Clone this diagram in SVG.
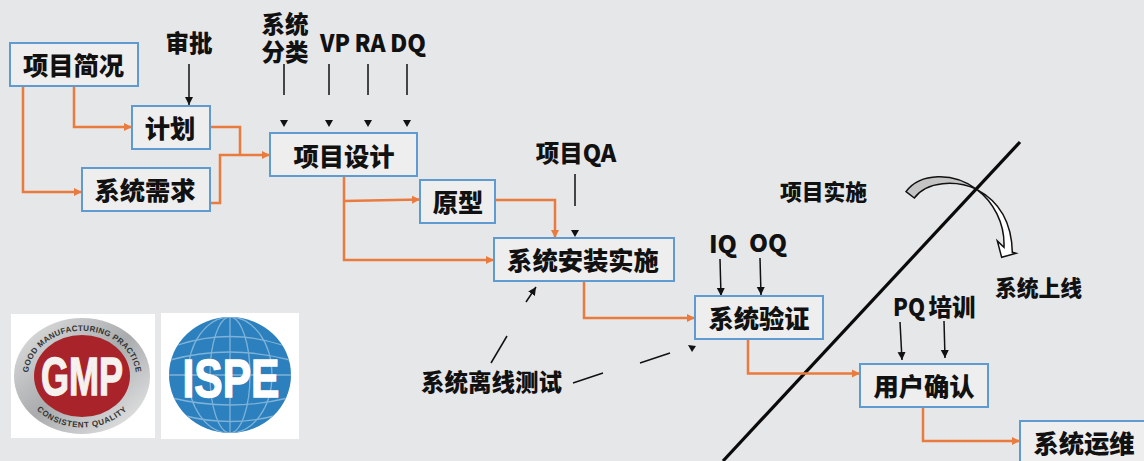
<svg xmlns="http://www.w3.org/2000/svg" width="1144" height="461" viewBox="0 0 1144 461">
<style>
text{font-family:"Noto Sans CJK SC","Noto Sans",sans-serif;font-weight:900;fill:#111;text-anchor:middle}
.n{font-size:25.300px}
.l{font-size:23.500px}
.s{font-size:21.800px}
.e{font-size:24.500px}
.lat{font-family:"Liberation Sans",sans-serif;font-weight:700;stroke:#f4f1ee;stroke-width:1.400px;fill:#f4f1ee}
.ring{font-family:"Liberation Sans",sans-serif;font-weight:700;font-size:8px;fill:#333}
.box{fill:#eeeeee;stroke:#5f9bd1;stroke-width:2}
.o{fill:none;stroke:#ea7b3e;stroke-width:2.5;marker-end:url(#oa)}
.p{fill:none;stroke:#ea7b3e;stroke-width:2.5}
.k{fill:none;stroke:#111;stroke-width:1.5}
.a{marker-end:url(#ka)}
.t{fill:#111}
.grid{fill:none;stroke:#7fb2d8;stroke-width:1.300}
</style>
<defs>
<marker id="oa" markerUnits="userSpaceOnUse" markerWidth="10" markerHeight="10" refX="8" refY="5" orient="auto"><path d="M0 1L8 5L0 9Z" fill="#ea7b3e"/></marker>
<marker id="ka" markerUnits="userSpaceOnUse" markerWidth="10" markerHeight="10" refX="8" refY="5" orient="auto"><path d="M0 1L8 5L0 9Z" fill="#111"/></marker>
<linearGradient id="sil" x1="0" y1="0" x2="1" y2="1"><stop offset="0" stop-color="#e4e4e4"/><stop offset=".5" stop-color="#a9abad"/><stop offset="1" stop-color="#eeeeee"/></linearGradient>
<clipPath id="glb"><ellipse cx="230" cy="375" rx="61" ry="58"/></clipPath>
<path id="topArc" d="M31 392A54 46 0 1 1 133 392"/>
<path id="botArc" d="M23 385A60 52 0 0 0 141 385"/>
</defs>
<rect width="1144" height="461" fill="#e6e7e9"/>

<g id="logo-gmp">
<rect x="11" y="314" width="144" height="124" fill="#fff"/>
<ellipse cx="82" cy="376" rx="68" ry="58" fill="url(#sil)"/>
<ellipse cx="82" cy="376" rx="48" ry="41" fill="#a8242a"/>
<text class="ring" letter-spacing=".3"><textPath href="#topArc" startOffset="50%">GOOD MANUFACTURING PRACTICE</textPath></text>
<text class="ring" letter-spacing=".6"><textPath href="#botArc" startOffset="50%">CONSISTENT QUALITY</textPath></text>
<text class="lat" x="82" y="395" font-size="54" textLength="82" lengthAdjust="spacingAndGlyphs">GMP</text>
</g>

<g id="logo-ispe">
<rect x="161" y="313" width="138" height="126" fill="#fff"/>
<ellipse cx="230" cy="375" rx="61" ry="58" fill="#2b80bd"/>
<g clip-path="url(#glb)" class="grid">
<ellipse cx="230" cy="375" rx="20" ry="58"/>
<ellipse cx="230" cy="375" rx="42" ry="58"/>
<path d="M230 317V433M169 375H291"/>
<path d="M178 345Q230 328 282 345M170 360Q230 344 290 360M172 398Q230 412 288 398M182 415Q230 428 278 415"/>
</g>
<text class="lat" style="fill:#fff;stroke:#fff" x="231" y="397" font-size="54" textLength="97" lengthAdjust="spacingAndGlyphs">ISPE</text>
</g>

<g id="phase-divider">
<path d="M1020 142L723 461" fill="none" stroke="#0a0a0a" stroke-width="3.200"/>
<g transform="translate(880 130) scale(.3333)" stroke="#111" stroke-width="4.500">
<path d="M78 185C120 128 220 125 290 178C230 150 140 152 103 204Z" fill="#c4c4c4"/>
<path d="M290 178C350 210 395 270 397 367L408 370L365 382L352 333L372 352C375 280 340 215 290 178Z" fill="#fff"/>
</g>
</g>

<g id="connectors">
<path class="o" d="M23 86V192H82"/>
<path class="o" d="M74 86V127H132"/>
<path class="p" d="M210 127H240V155"/>
<path class="o" d="M210 203H220V155H270"/>
<path class="o" d="M344 201L420 199.500"/>
<path class="o" d="M344 176V260H494"/>
<path class="o" d="M496 200H555V238"/>
<path class="o" d="M584 282V318H695"/>
<path class="o" d="M748 339V373.500H860"/>
<path class="o" d="M923 407V441H1020"/>
<path class="k a" d="M189 64V105"/>
<path class="k" d="M284 64V95M329 64V95M368 64V95M407 64V95M575 174V206"/>
<path class="t" d="M280 120H288L284 127ZM325 120H333L329 127ZM364 120H372L368 127ZM403 120H411L407 127ZM571 230H579L575 237Z"/>
<path class="k a" d="M720 259L721 296"/>
<path class="k a" d="M760 258L761 295"/>
<path class="k a" d="M900 322L902 360"/>
<path class="k a" d="M944 321L945 358"/>
<path class="k" d="M491 363L507 336"/>
<path class="k a" d="M526 302L536 287"/>
<path class="k" d="M573 383L603 373M640 363L670 353"/>
<path class="t" d="M688 345L696 346L692 352Z"/>
</g>

<g id="n-brief"><rect class="box" x="10" y="43" width="128" height="43"/><text class="n" x="73.500" y="75">项目简况</text></g>
<g id="n-plan"><rect class="box" x="132" y="106" width="78" height="43"/><text class="n" x="170" y="138">计划</text></g>
<g id="n-req"><rect class="box" x="82" y="168" width="128" height="43"/><text class="n" x="145" y="200">系统需求</text></g>
<g id="n-design"><rect class="box" x="270" y="133" width="147" height="43"/><text class="n" x="344" y="166">项目设计</text></g>
<g id="n-proto"><rect class="box" x="420" y="180" width="75" height="43"/><text class="n" x="458" y="212">原型</text></g>
<g id="n-install"><rect class="box" x="494" y="238" width="180" height="43"/><text class="n" x="583" y="270">系统安装实施</text></g>
<g id="n-verify"><rect class="box" x="695" y="296" width="128" height="43"/><text class="n" x="759" y="328">系统验证</text></g>
<g id="n-uat"><rect class="box" x="860" y="364" width="128" height="43"/><text class="n" x="924" y="396">用户确认</text></g>
<g id="n-ops"><rect class="box" x="1020" y="421" width="130" height="46"/><text class="n" x="1084" y="453">系统运维</text></g>

<g id="labels">
<text class="l" x="189" y="52">审批</text>
<text class="l" x="285" y="33">系统</text>
<text class="l" x="285" y="61">分类</text>
<text class="e" x="335" y="52" textLength="30" lengthAdjust="spacingAndGlyphs">VP</text>
<text class="e" x="370" y="52" textLength="31" lengthAdjust="spacingAndGlyphs">RA</text>
<text class="e" x="408" y="52" textLength="36" lengthAdjust="spacingAndGlyphs">DQ</text>
<text class="l" x="576" y="162">项目QA</text>
<text class="e" x="723" y="253" textLength="28" lengthAdjust="spacingAndGlyphs">IQ</text>
<text class="e" x="768" y="252" textLength="38" lengthAdjust="spacingAndGlyphs">OQ</text>
<text class="e" x="909" y="316" textLength="32" lengthAdjust="spacingAndGlyphs">PQ</text>
<text class="l" x="952" y="316">培训</text>
<text class="s" x="823.500" y="200">项目实施</text>
<text class="s" x="1038.500" y="296">系统上线</text>
<text class="l" x="491.500" y="391">系统离线测试</text>
</g>
</svg>
